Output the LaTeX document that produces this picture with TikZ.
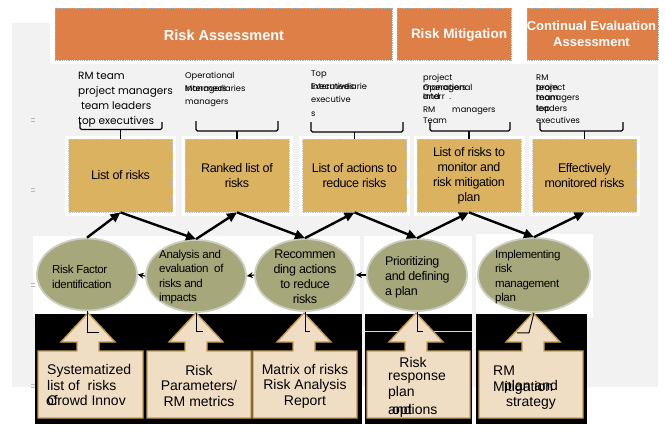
\documentclass[tikz,border=0pt]{standalone}
\usepackage{fontspec}
\setmainfont{Liberation Sans}
\newfontfamily\gothic{Poppins}
\newfontfamily\tightsans[LetterSpace=-3]{Liberation Sans}
\usetikzlibrary{arrows.meta,shapes.geometric}

\definecolor{bggray}{RGB}{242,242,242}
\definecolor{hdrorange}{RGB}{222,127,72}
\definecolor{boxgold}{RGB}{218,178,96}
\definecolor{olivefill}{RGB}{166,168,124}
\definecolor{rimgray}{RGB}{205,205,192}
\definecolor{calloutfill}{RGB}{240,222,196}
\definecolor{calloutedge}{RGB}{196,156,80}

% up-pointing callout: left edge, right edge, tip x
\newcommand\drawcallout[3]{%
  \draw[callout] (#1,418) -- (#1,351) -- (#3-11,351) -- (#3-11,342) -- (#3-27,342)
    -- (#3,313) -- (#3+27,342) -- (#3+11,342) -- (#3+11,351) -- (#2,351) -- (#2,418) -- cycle;}

% role bracket: left, right, top, bottom, stem x, name
\newcommand\drawbracket[6]{%
  \draw[brk] (#1,#3) -- (#1,#4) -- (#2,#4) -- (#2,#3);
  \coordinate (#6) at (#5,#4);}

\begin{document}
\begin{tikzpicture}[x=1pt,y=-1pt,
  hdr/.style={rectangle, fill=hdrorange, draw=gray!65, densely dotted, line width=0.8pt,
    minimum height=52pt, inner sep=0pt},
  hdrtext/.style={text=white, font=\bfseries\fontsize{14}{16}\selectfont, align=center, inner sep=0pt},
  role/.style={font=\gothic\fontsize{8.3}{10}\selectfont, anchor=base west, inner sep=0pt},
  outbox/.style={rectangle, fill=boxgold, draw=gray!45, densely dotted, line width=0.8pt,
    minimum width=104pt, minimum height=73pt, inner sep=0pt, align=center,
    font=\tightsans\fontsize{12.5}{15}\selectfont,
    preaction={draw=white, solid, line width=7pt}},
  stage/.style={ellipse, fill=olivefill, draw=rimgray, line width=1.8pt,
    minimum width=100pt, minimum height=72pt, inner sep=0pt},
  stagetext/.style={font=\tightsans\fontsize{11.5}{14.3}\selectfont, inner sep=0pt},
  callout/.style={fill=calloutfill, draw=calloutedge, line width=1.4pt, line join=miter},
  calltext/.style={font=\fontsize{14}{15.5}\selectfont, inner sep=0pt},
  brk/.style={line width=1.3pt, rounded corners=1.5pt},
  zz/.style={line width=2.4pt, -{Triangle[length=10pt,width=9pt]}},
  back/.style={line width=1.1pt, -{Stealth[length=6pt,width=6pt]}},
  tie/.style={line width=1pt}]
\useasboundingbox (0,0) rectangle (665,424);

% backdrop panels
\fill[white] (0,0) rectangle (665,424);
\fill[bggray] (12,23) rectangle (658,387);
\fill[white] (50,0) rectangle (665,64);
\fill[white] (33,236) rectangle (360,318);
\fill[white] (364,236) rectangle (472,318);
\fill[white] (476,234) rectangle (593,318);
\fill[black] (35,314) rectangle (362,424);
\fill[black] (365,314) rectangle (472,424);
\fill[black] (476,314) rectangle (587,424);
\draw[gray!30, line width=0.8pt] (365,331) -- (472,331);
\foreach \yy in {120,190,285,386}
  \draw[gray!55, line width=0.5pt] (31,\yy-1.5) -- (35,\yy-1.5) (31,\yy+1.5) -- (35,\yy+1.5);

% phase headers
\node[hdr, minimum width=337pt] (h1) at (223.5,34) {};
\node[hdr, minimum width=114pt] (h2) at (454,34) {};
\node[hdr, minimum width=131pt] (h3) at (592.5,34) {};
\node[hdrtext, font=\bfseries\fontsize{14.5}{16}\selectfont] (h1t) at (224,35) {Risk Assessment};
\node[hdrtext, font=\bfseries\fontsize{13.5}{16}\selectfont] (h2t) at (459,35) {Risk Mitigation};
\node[hdrtext, font=\bfseries\fontsize{13}{16}\selectfont] (h3t) at (591.5,34) {Continual Evaluation\\Assessment};

% roles
\node[font=\gothic\fontsize{10.5}{15}\selectfont, align=left, anchor=west, inner sep=0pt] (r1)
  at (78,100) {RM team\\project managers\\\ team leaders\\top executives};

\node[role] (r2a) at (185,78) {Operational};
\node[role] (r2b) at (185,91) {Managers};
\node[role] (r2c) at (185,91) {Intermediaries};
\node[role] (r2d) at (185,104) {managers};

\node[role] (r3a) at (311,76) {Top};
\node[role] (r3b) at (311,89) {Executives};
\node[role] (r3c) at (311,89) {Intermediarie};
\node[role] (r3d) at (311,102) {executive};
\node[role] (r3e) at (311,116) {s};

\node[role] (r4a) at (423,80) {project};
\node[role] (r4b) at (423,90) {managers};
\node[role] (r4c) at (423,90) {Operational};
\node[role] (r4d) at (423,99) {and};
\node[role] (r4e) at (423,99) {Interr\ \ .};
\node[role] (r4f) at (423,112) {RM};
\node[role] (r4g) at (452,112) {managers};
\node[role] (r4h) at (423,123) {Team};

\node[role] (r5a) at (536,80) {RM};
\node[role] (r5b) at (536,90) {project};
\node[role] (r5c) at (536,90) {team};
\node[role] (r5d) at (536,100) {managers};
\node[role] (r5e) at (536,100) {team};
\node[role] (r5f) at (536,111) {leaders};
\node[role] (r5g) at (536,111) {top};
\node[role] (r5h) at (536,123) {executives};

% outputs
\node[outbox] (b1) at (120.5,175.5) {List of risks};
\node[outbox] (b2) at (237,175.5) {Ranked list of\\risks};
\node[outbox] (b3) at (354.5,175.5) {List of actions to\\reduce risks};
\node[outbox] (b4) at (469,175.5) {List of risks to\\monitor and\\risk mitigation\\plan};
\node[outbox] (b5) at (584.5,175.5) {Effectively\\monitored risks};

% brackets joining roles to outputs
\drawbracket{80}{162}{122}{129.5}{120.5}{k1}
\drawbracket{196}{278}{121}{131}{237}{k2}
\drawbracket{311}{403}{122}{132}{354.5}{k3}
\drawbracket{430}{510}{122}{131}{469}{k4}
\drawbracket{540}{623}{122}{131}{584.5}{k5}
\foreach \i in {1,...,5} \draw[brk] (k\i) -- (b\i.north);

% process stages
\node[stage] (c1) at (87,274.5) {};
\node[stage] (c2) at (196,276) {};
\node[stage] (c3) at (305,275) {};
\node[stage] (c4) at (417,275) {};
\node[stage, minimum width=112pt, minimum height=74pt] (c5) at (534,275) {};

\node[stagetext, align=left, anchor=west] (s1) at (52,277) {Risk Factor\\identification};
\node[stagetext, align=left, anchor=west] (s2) at (159,277) {Analysis and\\evaluation\ \ of\\risks and\\impacts};
\node[stagetext, align=center, font=\tightsans\fontsize{12.5}{15}\selectfont] (s3) at (305,276.5) {Recommen\\ding actions\\to reduce\\risks};
\node[stagetext, align=left, anchor=west, font=\tightsans\fontsize{12.5}{15}\selectfont] (s4) at (385,277.5) {Prioritizing\\and defining\\a plan};
\node[stagetext, align=left, anchor=west] (s5) at (495,277) {Implementing\\risk\\management\\plan};

% zig-zag flow between stages and outputs
\draw[zz] (c1.north) -- (b1.south);
\draw[zz] (b1.south) -- (c2.north);
\draw[zz] (c2.north) -- (b2.south);
\draw[zz] (b2.south) -- (c3.north);
\draw[zz] (c3.north) -- (b3.south);
\draw[zz] (b3.south) -- (c4.north);
\draw[zz] (c4.north) -- (b4.south);
\draw[zz] (b4.south) -- (c5.north);
\draw[zz] (c5.north) -- (b5.south);

% feedback between neighbouring stages
\draw[back] (c2.west) -- (c1.east);
\draw[back] (c3.west) -- (c2.east);
\draw[back] (c4.west) -- (c3.east);

% inputs
\drawcallout{38}{143}{88}
\drawcallout{147}{251}{196}
\drawcallout{253}{357}{304}
\drawcallout{367}{470}{416}
\drawcallout{479}{583}{533}

\draw[tie] (c1.south) -- ++(0,21) -- ++(12,0);
\draw[tie] (c2.south) -- ++(0,19) -- ++(7,0);
\draw[tie] (c3.south) -- ++(0,20) -- ++(5,0);
\draw[tie] (c4.south) -- ++(0,20) -- ++(6,0);
\draw[tie] (c5.south) -- ++(-5,20) -- ++(-12,0);

\node[calltext, align=left, anchor=west] (t1) at (47,385) {Systematized\\list of\ \ risks\\Crowd Innov};
\node[calltext, anchor=base west] (t1b) at (46,405) {of};
\node[calltext, align=center] (t2) at (199,385.5) {Risk\\Parameters/\\RM metrics};
\node[calltext, align=center] (t3) at (305,386) {Matrix of risks\\Risk Analysis\\Report};
\node[calltext] (t4a) at (413,362) {Risk};
\node[calltext, align=left, anchor=west] (t4b) at (388,386) {response\\plan};
\node[calltext, anchor=base west] (t4c) at (392,414) {options};
\node[calltext, anchor=base west] (t4d) at (388,414) {and};
\node[calltext, align=left, anchor=west] (t5a) at (493,380) {RM\\Mitigation};
\node[calltext, align=center] (t5b) at (531,395) {plan and\\strategy};
\end{tikzpicture}
\end{document}
